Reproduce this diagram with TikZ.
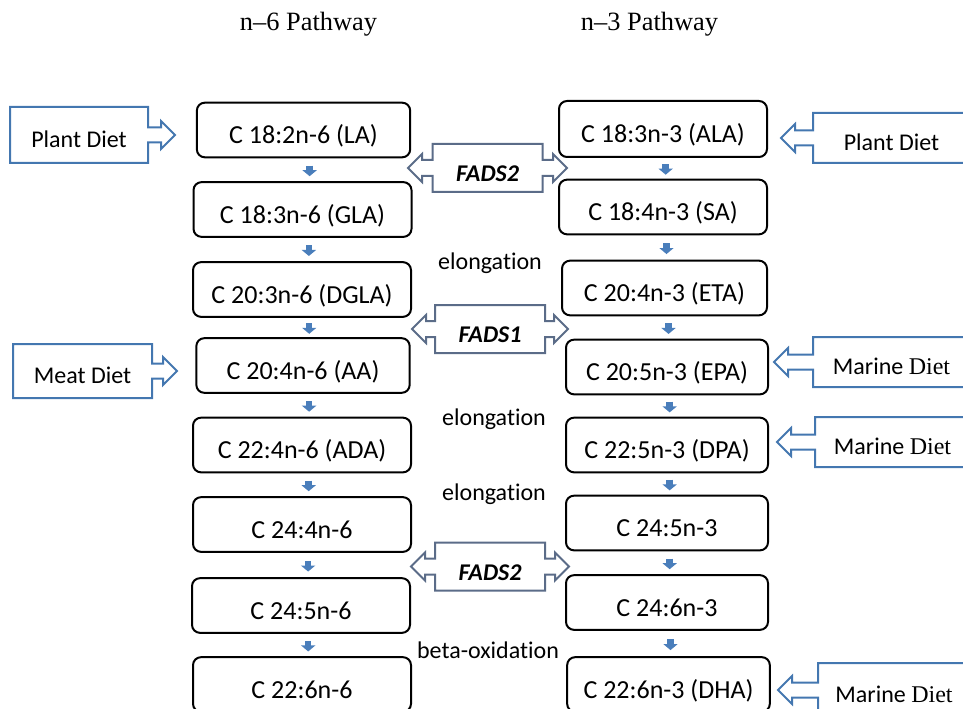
\documentclass[tikz,border=0pt]{standalone}
\usepackage{fontspec}
\setmainfont{Carlito}[Ligatures={TeX,NoCommon}]
\newfontfamily\timesfont{Liberation Serif}
\usetikzlibrary{arrows.meta}
\definecolor{dietBlue}{HTML}{4477B0}
\definecolor{fadsSlate}{HTML}{5B6C88}
\definecolor{flowBlue}{HTML}{4A7EBB}
% diet source: box with an arrow on the side it feeds from
% #1 name, #2 arrow-side edge x, #3 far edge x, #4 top, #5 bottom, #6 tip x, #7 text
\newcommand{\dietbox}[7]{%
  \pgfmathsetmacro{\ym}{(#4+#5)/2}%
  \pgfmathsetmacro{\xb}{#6-14*sign(#6-#2)}%
  \draw[dietBlue,line width=1.5pt,line join=miter]
    (#3,#4)--(#2,#4)--(#2,\ym-7.5)--(\xb,\ym-7.5)--(\xb,\ym-14)--(#6,\ym)
    --(\xb,\ym+14)--(\xb,\ym+7.5)--(#2,\ym+7.5)--(#2,#5)--(#3,#5)--cycle;
  \node[font=\fontsize{18}{22}\selectfont,text height=19pt,text depth=0pt]
    (#1) at ({(#2+#3)/2},\ym) {#7};
}
% enzyme label in a box with arrows to both sides
% #1 name, #2 centre x, #3 centre y, #4 tip offset, #5 label
\newcommand{\fadsarrow}[5]{%
  \draw[fadsSlate,line width=1.5pt,line join=miter]
    (#2-55,#3-24)--(#2+55,#3-24)--(#2+55,#3-8)--(#2+#4-14,#3-8)--(#2+#4-14,#3-14)
    --(#2+#4,#3)--(#2+#4-14,#3+14)--(#2+#4-14,#3+8)--(#2+55,#3+8)--(#2+55,#3+24)
    --(#2-55,#3+24)--(#2-55,#3+8)--(#2-#4+14,#3+8)--(#2-#4+14,#3+14)--(#2-#4,#3)
    --(#2-#4+14,#3-14)--(#2-#4+14,#3-8)--(#2-55,#3-8)--cycle;
  \node[font=\fontsize{18}{22}\selectfont\bfseries\itshape] (#1) at (#2,#3+6) {#5};
}

\begin{document}
\begin{tikzpicture}[x=0.75pt,y=-0.75pt,
  acid/.style={draw,line width=1.5pt,rounded corners=6pt,minimum height=41pt,
    minimum width=163.5pt,text height=20.8pt,text depth=0pt,
    font=\fontsize{19.5}{23}\selectfont},
  acidR/.style={acid,minimum width=153.75pt},
  flow/.style={draw=flowBlue,line width=4.8pt,-{Triangle[width=10.5pt,length=4.5pt]}},
  steplabel/.style={anchor=base,font=\fontsize{18}{22}\selectfont}]
\useasboundingbox (0,0) rectangle (963,709);
\clip (0,0) rectangle (963,709);

% Column headings.
\node[anchor=base,font=\timesfont\fontsize{19.8}{24}\selectfont] (head6) at (308.5,31) {n–6 Pathway};
\node[anchor=base,font=\timesfont\fontsize{19.8}{24}\selectfont] (head3) at (649.5,31) {n–3 Pathway};

% n-6 series.
\node[acid,minimum width=160pt] (la) at (303.5,130) {C 18:2n-6 (LA)};
\node[acid] (gla)  at (302.5,209.5) {C 18:3n-6 (GLA)};
\node[acid] (dgla) at (302,289.5) {C 20:3n-6 (DGLA)};
\node[acid,minimum width=160pt] (aa) at (303,365.5) {C 20:4n-6 (AA)};
\node[acid] (ada)  at (302,445) {C 22:4n-6 (ADA)};
\node[acid] (c24a) at (302,524.5) {C 24:4n-6};
\node[acid] (c24b) at (301,605.5) {C 24:5n-6};
\node[acid] (c22a) at (302,684.5) {C 22:6n-6};

% n-3 series.
\node[acidR,minimum width=156pt,minimum height=42pt] (ala) at (663,129) {C 18:3n-3 (ALA)};
\node[acidR,minimum width=156pt] (sa) at (663,207) {C 18:4n-3 (SA)};
\node[acidR] (eta)  at (664.5,288) {C 20:4n-3 (ETA)};
\node[acidR,minimum width=151.5pt] (epa) at (667,367) {C 20:5n-3 (EPA)};
\node[acidR,minimum width=151.5pt] (dpa) at (667,445) {C 22:5n-3 (DPA)};
\node[acidR,minimum width=151.5pt] (c24c) at (667,523) {C 24:5n-3};
\node[acidR,minimum width=151.5pt] (c24d) at (667,602.5) {C 24:6n-3};
\node[acidR,minimum width=152pt] (dha) at (668.5,684.5) {C 22:6n-3 (DHA)};

% Conversion steps: a short arrow in each gap, a bit below its middle.
\foreach \a/\b in {la/gla,gla/dgla,dgla/aa,aa/ada,ada/c24a,c24a/c24b,c24b/c22a} {
  \path (\a.south) -- (\b.north) coordinate[pos=0.55] (gap);
  \draw[flow] ([xshift=5pt,yshift=4pt]gap) -- ([xshift=5pt,yshift=-4pt]gap);
}
\foreach \a/\b in {ala/sa,sa/eta,eta/epa,epa/dpa,dpa/c24c,c24c/c24d,c24d/dha} {
  \path (\a.south) -- (\b.north) coordinate[pos=0.55] (gap);
  \draw[flow] ([xshift=2pt,yshift=4pt]gap) -- ([xshift=2pt,yshift=-4pt]gap);
}

% Shared enzymes and steps between the columns.
\fadsarrow{fadsA}{487.5}{168}{79.5}{FADS2}
\fadsarrow{fadsB}{490}{329}{78}{FADS1}
\fadsarrow{fadsC}{490}{566.5}{79}{FADS2}
\node[steplabel] (elongA) at (490,269) {elongation};
\node[steplabel] (elongB) at (494,425) {elongation};
\node[steplabel] (elongC) at (494,500) {elongation};
\node[steplabel] (betaox) at (488,658) {beta-oxidation};

% Dietary sources.
\dietbox{plantL}{148}{10}{107}{163}{175}{Plant Diet}
\dietbox{meatL}{152}{13}{344}{398}{177}{Meat Diet}
\dietbox{plantR}{813}{970}{113}{163}{781}{Plant Diet}
\dietbox{marineA}{813}{970}{337}{387}{774}{Marine {\timesfont Diet}}
\dietbox{marineB}{815}{970}{417}{467}{777}{Marine {\timesfont Diet}}
\dietbox{marineC}{818}{970}{663}{717}{778}{Marine {\timesfont Diet}}

\end{tikzpicture}
\end{document}
